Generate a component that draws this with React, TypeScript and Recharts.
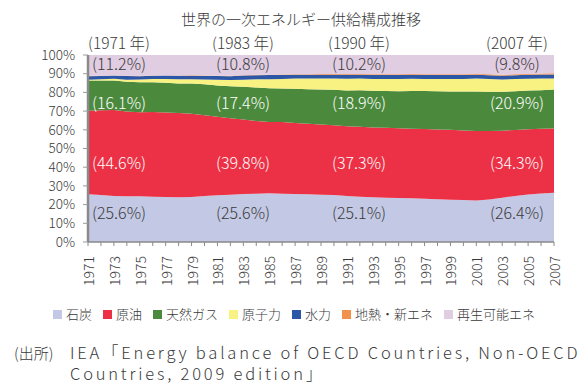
import { AreaChart, Area, XAxis, YAxis } from "recharts";

const years = [
  "1971", "1972", "1973", "1974", "1975", "1976", "1977", "1978", "1979", "1980",
  "1981", "1982", "1983", "1984", "1985", "1986", "1987", "1988", "1989", "1990",
  "1991", "1992", "1993", "1994", "1995", "1996", "1997", "1998", "1999", "2000",
  "2001", "2002", "2003", "2004", "2005", "2006", "2007",
];

// shares in %
const coal = [
  25.6, 25.2, 24.6, 24.5, 24.4, 24.2, 24.1, 24.0, 24.1, 24.6,
  25.0, 25.3, 25.6, 25.8, 26.0, 25.8, 25.7, 25.5, 25.3, 25.1,
  24.6, 24.2, 24.0, 23.7, 23.6, 23.4, 23.2, 22.9, 22.6, 22.5,
  22.3, 22.8, 23.8, 24.7, 25.4, 26.0, 26.4,
];
const oil = [
  44.6, 45.2, 46.0, 45.3, 45.0, 45.3, 45.2, 45.0, 44.6, 43.2,
  42.0, 40.8, 39.8, 38.8, 38.0, 38.3, 38.0, 37.8, 37.6, 37.3,
  37.4, 37.5, 37.3, 37.4, 37.3, 37.3, 37.3, 37.4, 37.5, 37.2,
  37.2, 36.8, 35.9, 35.4, 34.9, 34.6, 34.3,
];
const gas = [
  16.1, 16.0, 15.8, 15.9, 16.0, 15.9, 15.9, 15.9, 16.2, 16.6,
  16.8, 17.1, 17.4, 17.8, 18.0, 17.9, 18.3, 18.4, 18.7, 18.9,
  19.2, 19.5, 19.6, 19.7, 19.8, 20.2, 20.3, 20.5, 20.6, 20.9,
  21.2, 21.0, 20.9, 20.8, 20.7, 20.6, 20.9,
];
const nuclear = [
  0.5, 0.6, 0.9, 1.1, 1.5, 1.7, 2.0, 2.2, 2.3, 2.6,
  3.0, 3.3, 3.8, 4.4, 4.9, 5.1, 5.5, 5.8, 5.9, 6.0,
  6.3, 6.3, 6.4, 6.5, 6.6, 6.6, 6.5, 6.6, 6.7, 6.8,
  6.9, 6.8, 6.5, 6.5, 6.3, 6.2, 5.9,
];
const hydro = [
  1.9, 1.8, 1.7, 2.0, 1.8, 1.8, 1.8, 1.9, 1.9, 1.9,
  2.0, 2.1, 2.2, 2.2, 2.2, 2.1, 2.0, 2.0, 2.0, 2.0,
  2.1, 2.0, 2.1, 2.1, 2.1, 2.1, 2.1, 2.1, 2.1, 2.1,
  2.0, 2.1, 2.1, 2.1, 2.1, 2.2, 2.2,
];
const geothermal = [
  0.1, 0.1, 0.1, 0.1, 0.1, 0.1, 0.1, 0.1, 0.2, 0.2,
  0.2, 0.2, 0.2, 0.2, 0.2, 0.3, 0.3, 0.3, 0.3, 0.4,
  0.4, 0.4, 0.4, 0.4, 0.4, 0.4, 0.4, 0.4, 0.4, 0.4,
  0.4, 0.5, 0.5, 0.5, 0.5, 0.5, 0.6,
];
const renewables = [
  11.2, 11.1, 10.9, 11.1, 11.2, 11.0, 10.9, 11.0, 10.9, 11.0,
  11.1, 11.1, 10.8, 10.6, 10.5, 10.4, 10.3, 10.3, 10.2, 10.2,
  10.2, 10.2, 10.3, 10.3, 10.3, 10.2, 10.3, 10.3, 10.3, 10.3,
  10.2, 10.3, 10.6, 10.3, 10.1, 9.9, 9.8,
];

const seriesKeys = ["coal", "oil", "gas", "nuclear", "hydro", "geothermal", "renewables"];
const seriesNames = ["石炭", "原油", "天然ガス", "原子力", "水力", "地熱・新エネ", "再生可能エネ"];
const seriesColors = ["#c3c8e4", "#ec3146", "#4b8a3d", "#f8f283", "#2c56a6", "#f2914c", "#e0cde2"];
const yTicks = [0, 0.1, 0.2, 0.3, 0.4, 0.5, 0.6, 0.7, 0.8, 0.9, 1];

// years that get a "(xxxx 年)" header and share labels
const labelYears = ["1971", "1983", "1990", "2007"];

const data = years.map((year, i) => ({
  year,
  coal: coal[i],
  oil: oil[i],
  gas: gas[i],
  nuclear: nuclear[i],
  hydro: hydro[i],
  geothermal: geothermal[i],
  renewables: renewables[i],
}));

const font = "'Noto Sans CJK JP', 'Noto Sans', sans-serif";
const textColor = "#3a3a3a";

const YearTick = (props: any) => {
  const { x, y, payload } = props;
  if (Number(payload.value) % 2 === 0) return null;
  const ty = y + 8;
  return (
    <text
      x={x}
      y={ty}
      transform={`rotate(-90 ${x} ${ty})`}
      textAnchor="end"
      dominantBaseline="central"
      fill={textColor}
      fontSize={14}
      fontFamily={font}
      fontWeight={300}
    >
      {payload.value}
    </text>
  );
};

// label centre x per header year, label centre y per layer
const labelX = [119, 243, 359, 517];
const layerLabels = [
  { values: renewables, y: 63, color: textColor },
  { values: gas, y: 102, color: "#ffffff" },
  { values: oil, y: 162, color: "#ffffff" },
  { values: coal, y: 212, color: textColor },
];

export default function App() {
  return (
    <div
      style={{
        position: "absolute",
        left: 0,
        top: 0,
        width: 586,
        height: 387,
        background: "#fff",
        fontFamily: font,
        fontWeight: 300,
        color: textColor,
      }}
    >
      <div
        style={{
          position: "absolute",
          left: 0,
          width: 602,
          top: 9,
          textAlign: "center",
          fontSize: 15,
          lineHeight: "20px",
        }}
      >
        世界の一次エネルギー供給構成推移
      </div>

      <AreaChart
        width={586}
        height={300}
        data={data}
        stackOffset="expand"
        margin={{ top: 55, right: 32, bottom: 0, left: 0 }}
      >
        <XAxis
          dataKey="year"
          interval={0}
          height={58}
          tick={<YearTick />}
          tickSize={4}
          stroke="#8a8a8a"
          axisLine={{ stroke: "#8a8a8a", strokeWidth: 1.5 }}
          tickLine={{ stroke: "#8a8a8a" }}
        />
        <YAxis
          width={88}
          domain={[0, 1]}
          ticks={yTicks}
          interval={0}
          tickFormatter={(v: number) => `${Math.round(v * 100)}%`}
          tick={{ fill: textColor, fontSize: 13.5, fontFamily: font, fontWeight: 300 }}
          tickSize={5}
          tickMargin={8}
          axisLine={{ stroke: "#8a8a8a", strokeWidth: 2.5 }}
          tickLine={{ stroke: "#9a9a9a" }}
        />
        {seriesKeys.map((key, i) => (
          <Area
            key={key}
            type="linear"
            dataKey={key}
            name={seriesNames[i]}
            stackId="1"
            stroke="none"
            fill={seriesColors[i]}
            fillOpacity={1}
            isAnimationActive={false}
          />
        ))}
      </AreaChart>

      {labelYears.map((year, j) => (
        <div
          key={year}
          style={{
            position: "absolute",
            left: labelX[j] - 50,
            width: 100,
            top: 33,
            textAlign: "center",
            fontSize: 15.5,
            lineHeight: "18px",
            whiteSpace: "pre",
          }}
        >
          {`(${year} 年)`}
        </div>
      ))}

      {labelYears.map((year, j) =>
        layerLabels.map((layer, k) => (
          <div
            key={`${year}-${k}`}
            style={{
              position: "absolute",
              left: labelX[j] - 50,
              width: 100,
              top: layer.y - 10,
              textAlign: "center",
              fontSize: 16,
              lineHeight: "20px",
              color: layer.color,
            }}
          >
            {`(${layer.values[years.indexOf(year)].toFixed(1)}%)`}
          </div>
        ))
      )}

      <div
        style={{
          position: "absolute",
          left: 53,
          top: 305,
          display: "flex",
          gap: 11,
          fontSize: 13,
          lineHeight: "18px",
          whiteSpace: "nowrap",
        }}
      >
        {seriesNames.map((name, i) => (
          <div key={name} style={{ display: "flex", alignItems: "center", gap: 4 }}>
            <span style={{ width: 9, height: 9, background: seriesColors[i], display: "inline-block" }} />
            <span>{name}</span>
          </div>
        ))}
      </div>

      <div style={{ position: "absolute", left: 14, top: 342, fontSize: 15, lineHeight: "22px" }}>
        (出所)
      </div>
      <div
        style={{
          position: "absolute",
          left: 70,
          top: 342,
          fontSize: 16.5,
          lineHeight: "21px",
          letterSpacing: 2.8,
          whiteSpace: "pre",
        }}
      >
        {"IEA「Energy balance of OECD Countries, Non-OECD\nCountries, 2009 edition」"}
      </div>
    </div>
  );
}
